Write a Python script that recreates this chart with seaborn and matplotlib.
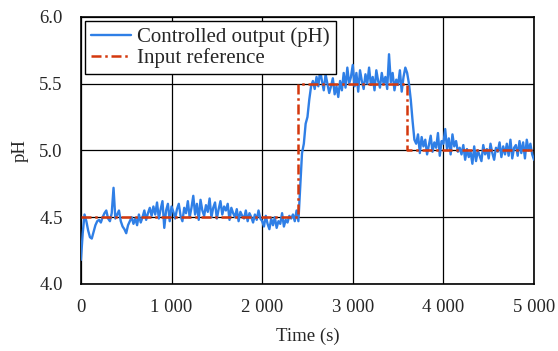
import numpy as np
import pandas as pd
import matplotlib
matplotlib.use("Agg")
import matplotlib.pyplot as plt
import seaborn as sns

# time axis, one sample every 20 s
time_s = np.arange(0, 5001, 20)

# controlled output (pH)
ph_output = [
    4.18, 4.38, 4.52, 4.47, 4.40, 4.35, 4.34, 4.39, 4.44, 4.47,
    4.48, 4.46, 4.50, 4.53, 4.55, 4.49, 4.47, 4.53, 4.72, 4.49,
    4.52, 4.55, 4.47, 4.43, 4.41, 4.38, 4.44, 4.47, 4.50, 4.45,
    4.49, 4.44, 4.52, 4.46, 4.50, 4.55, 4.48, 4.53, 4.57, 4.51,
    4.58, 4.52, 4.61, 4.49, 4.56, 4.62, 4.42, 4.55, 4.60, 4.47,
    4.58, 4.54, 4.49, 4.56, 4.60, 4.51, 4.47, 4.57, 4.53, 4.62,
    4.50, 4.57, 4.66, 4.52, 4.60, 4.48, 4.63, 4.55, 4.51, 4.59,
    4.54, 4.64, 4.50, 4.57, 4.61, 4.49, 4.56, 4.62, 4.52, 4.58,
    4.55, 4.60, 4.48, 4.57, 4.53, 4.50, 4.56, 4.47, 4.54, 4.51,
    4.49, 4.55, 4.47, 4.53, 4.50, 4.46, 4.52, 4.48, 4.55, 4.49,
    4.47, 4.43, 4.51, 4.45, 4.41, 4.49, 4.44, 4.50, 4.42, 4.47,
    4.45, 4.53, 4.43, 4.48, 4.46, 4.51, 4.49, 4.52, 4.47, 4.55,
    4.47, 4.72, 4.98, 5.05, 5.20, 5.25, 5.38, 5.48, 5.52, 5.46,
    5.55, 5.48, 5.60, 5.52, 5.45, 5.57, 5.50, 5.43, 5.48, 5.54,
    5.42, 5.48, 5.40, 5.52, 5.45, 5.58, 5.47, 5.62, 5.50, 5.55,
    5.64, 5.48, 5.58, 5.44, 5.60, 5.52, 5.46, 5.57, 5.50, 5.62,
    5.49, 5.55, 5.45, 5.60, 5.52, 5.47, 5.58, 5.50, 5.55, 5.46,
    5.72, 5.51, 5.58, 5.45, 5.53, 5.49, 5.60, 5.44, 5.55, 5.62,
    5.58, 5.50, 5.38, 5.22, 5.08, 5.05, 5.12, 4.98, 5.10, 5.03,
    5.08, 4.97, 5.04, 5.11, 4.99, 5.06, 5.02, 5.13, 4.96, 5.07,
    5.05, 5.16, 5.01, 5.09, 4.97, 5.12, 5.03, 5.07, 4.99, 5.02,
    4.97, 5.04, 4.93, 5.01, 4.95, 4.99, 4.90, 5.03, 4.92, 5.00,
    4.96, 4.92, 5.04, 4.97, 5.01, 4.94, 5.05, 4.98, 4.93, 5.02,
    4.99, 5.06, 4.95, 5.03, 4.97, 5.05, 4.96, 5.08, 4.94, 5.02,
    5.04, 4.96, 5.07, 4.98, 5.06, 4.94, 5.08, 5.00, 5.05, 4.97,
    4.93,
]

# reference steps
ref_time = [0, 2400, 2400, 3600, 3600, 5000]
ref_ph = [4.5, 4.5, 5.5, 5.5, 5.0, 5.0]

df = pd.DataFrame({"t": time_s, "ph": ph_output})
ref = pd.DataFrame({"t": ref_time, "ph": ref_ph})

sns.set_style("white")
plt.rcParams["font.family"] = ["Liberation Serif", "DejaVu Serif"]

fig = plt.figure(figsize=(5.58, 3.51), dpi=100)
ax = fig.add_axes([0.145, 0.191, 0.812, 0.761])

sns.lineplot(data=df, x="t", y="ph", ax=ax, color="#2f7fe6", lw=1.7,
             label="Controlled output (pH)", zorder=3)
sns.lineplot(data=ref, x="t", y="ph", ax=ax, color="#d4380d", lw=1.8,
             linestyle=(0, (4, 1.5, 1, 1.5)), label="Input reference",
             zorder=4, sort=False, estimator=None)

ax.set_xlim(0, 5000)
ax.set_ylim(4.0, 6.0)
ax.set_xticks([0, 1000, 2000, 3000, 4000, 5000])
ax.set_xticklabels(["0", "1 000", "2 000", "3 000", "4 000", "5 000"])
ax.set_yticks([4.0, 4.5, 5.0, 5.5, 6.0])
ax.set_yticklabels(["4.0", "4.5", "5.0", "5.5", "6.0"])
ax.grid(True, color="black", lw=0.9)
ax.set_axisbelow(True)
for s in ax.spines.values():
    s.set_color("black")
    s.set_linewidth(1.2)
ax.tick_params(labelsize=13.5, length=0)
ax.tick_params(axis="x", pad=11)
ax.tick_params(axis="y", pad=13)
ax.set_xlabel("Time (s)", fontsize=13.5, labelpad=8)
ax.set_ylabel("pH", fontsize=13.5, labelpad=8)

leg = ax.legend(loc="upper left", fontsize=15, frameon=True, fancybox=False,
                edgecolor="black", framealpha=1, borderaxespad=0.2,
                handlelength=1.9, borderpad=0.3, labelspacing=0.05,
                handletextpad=0.3)
leg.get_frame().set_linewidth(1.0)

fig.savefig("out.png", dpi=100)
